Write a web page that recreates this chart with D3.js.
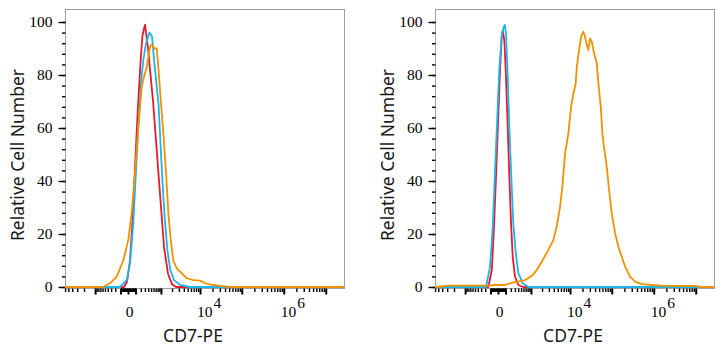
<!DOCTYPE html>
<html><head><meta charset="utf-8">
<script src="https://cdn.jsdelivr.net/npm/d3@7"></script>
<style>body{margin:0;background:#fff}</style>
</head><body>
<svg id="c" width="725" height="350"></svg>
<script>
// ---------- data (fluorescence intensity vs relative cell number %) ----------
const leftRedX = [-6030, -48, -11, 23, 55, 92, 135, 194, 239, 303, 393, 580, 770, 1006, 1221, 1568, 2002, 2541, 2.72e7];
const leftRedY = [0, 0, 2, 10, 25, 45, 65, 85, 95, 99, 90, 70, 50, 30, 15, 5, 1, 0, 0];

const leftCyanX = [-6030, -108, -14, 23, 66, 103, 150, 205, 258, 332, 437, 537, 623, 852, 973, 1108, 1276, 1502, 1806, 2256, 3211, 5700, 2.72e7];
const leftCyanY = [0, 0, 2.6, 9, 24, 41.6, 60.5, 77, 85.7, 92, 96, 94.5, 85.7, 69, 54, 39, 26, 14, 6.4, 2.6, 0.8, 0, 0];

const leftOrangeX = [-6030, -577, -332, -169, -58, 3, 44, 92, 150, 220, 277, 352, 437, 486, 566, 623, 752, 841, 986, 1167, 1385, 1598, 1850, 2163, 2649, 3546, 4724, 6875, 10000, 13220, 20960, 30340, 52660, 2.72e7];
const leftOrangeY = [0, 0, 1.4, 3.9, 10, 17.7, 28, 43, 60.5, 75.6, 79.4, 83, 89.4, 91.3, 91.3, 90, 90, 83, 70.6, 58, 43, 28, 17.7, 10, 7, 5.2, 3.3, 2.6, 2.4, 1.4, 0.75, 0.4, 0, 0];

const rightRedX = [-6030, -138, -80, -48, -23, 0, 23, 44, 58, 82, 108, 138, 169, 205, 244, 303, 403, 593, 2.72e7];
const rightRedY = [0, 0, 6.4, 22.8, 41.6, 61.8, 82, 94.5, 96.7, 93, 79.4, 60.5, 41.6, 24, 11.4, 3.9, 0.75, 0, 0];

const rightCyanX = [-6030, -183, -108, -66, -35, -8, 14, 44, 66, 88, 108, 138, 169, 211, 258, 324, 403, 566, 841, 2.72e7];
const rightCyanY = [0, 0, 7.7, 22.8, 44, 64, 82, 94.5, 97.6, 98.9, 95.7, 79.4, 60.5, 41.6, 24, 12.7, 5.2, 1.4, 0, 0];

const rightOrangeX = [-6030, -5480, -2857, -144, -35, 92, 220, 403, 670, 1053, 1447, 1966, 2908, 3888, 4724, 5700, 6493, 7570, 9100, 10580, 12040, 13750, 14540, 16520, 18440, 20960, 23030, 25300, 27640, 30340, 33330, 37850, 43900, 47950, 54700, 59700, 66700, 76060, 86340, 100200, 120100, 143900, 173500, 207800, 273600, 359900, 519300, 899500, 1864000, 9660000, 13940000, 2.72e7];
const rightOrangeY = [0, 0, 0.5, 0.5, 0.75, 0.75, 1.6, 2, 2.6, 4.2, 6.4, 9.5, 14, 17.7, 22.8, 30.3, 37.8, 50.4, 58, 68, 73, 76.9, 83, 89.4, 94.5, 96.3, 94.5, 91.3, 89.4, 93.8, 92.6, 88.2, 84.4, 76.9, 68, 58, 51.7, 45.4, 36.6, 27.8, 20.3, 15.2, 11.4, 7.7, 3.9, 2, 1.1, 0.75, 0.4, 0.4, 0, 0];

const xDomain = [-6030, 2.72e7];
const yDomain = [0, 100];
const yMajorTicks = [0, 20, 40, 60, 80, 100];
const yMinorTicks = d3.range(0, 101, 4);
const xLabelValues = [0, 1e4, 1e6];
const xLabelBase = ["0", "10", "10"];
const xLabelExp = ["", "4", "6"];
const yTitle = "Relative Cell Number";
const xTitle = "CD7-PE";
const seriesColors = {red: "#e8192c", cyan: "#1cb6ea", orange: "#f29100"};

// tick sets for biexponential axis
const xMajorTicks = [-1000, -100, 0, 100, 1000, 1e4, 1e5, 1e6, 1e7];
const xMinorTicks = [];
for (let k = 1; k <= 6; k++) {
  for (let m = 1; m <= 9; m++) {
    const v = m * Math.pow(10, k);
    if (m === 1 && k >= 2) continue;
    xMinorTicks.push(v);
    if (k <= 3 && -v >= xDomain[0]) xMinorTicks.push(-v);
  }
}

const zip = (xs, ys) => xs.map((v, i) => [v, ys[i]]);
const panels = [
  {left: 65, right: 344, titleX: 193, yTitleX: 24,
   series: [["red", zip(leftRedX, leftRedY)], ["cyan", zip(leftCyanX, leftCyanY)], ["orange", zip(leftOrangeX, leftOrangeY)]]},
  {left: 435, right: 714, titleX: 573, yTitleX: 394,
   series: [["red", zip(rightRedX, rightRedY)], ["cyan", zip(rightCyanX, rightCyanY)], ["orange", zip(rightOrangeX, rightOrangeY)]]}
];

const svg = d3.select("#c");
const TOP = 9, BOTTOM = 288;

panels.forEach(p => {
  const x = d3.scaleSymlog().constant(197).domain(xDomain).range([p.left, p.right]);
  const y = d3.scaleLinear().domain(yDomain).range([287, 22]);
  const g = svg.append("g");

  // frame
  g.append("rect")
    .attr("x", p.left + 0.5).attr("y", TOP + 0.5)
    .attr("width", p.right - p.left).attr("height", BOTTOM - TOP)
    .attr("fill", "none").attr("stroke", "#a0a0a0").attr("stroke-width", 1);

  // y axis
  const yMinor = g.append("g").attr("transform", `translate(${p.left + 0.5},0)`)
    .call(d3.axisLeft(y).tickValues(yMinorTicks).tickSize(3.5).tickFormat(""));
  const yMajor = g.append("g").attr("transform", `translate(${p.left + 0.5},0)`)
    .call(d3.axisLeft(y).tickValues(yMajorTicks).tickSize(7).tickPadding(6));
  [yMinor, yMajor].forEach(a => {
    a.select(".domain").remove();
    a.selectAll("line").attr("stroke", "#000").attr("stroke-width", 1.4);
  });
  yMajor.selectAll("text")
    .attr("font-family", "'Liberation Serif', 'DejaVu Serif', serif")
    .attr("font-size", 15.5).attr("fill", "#000");

  // x axis
  const xMinor = g.append("g").attr("transform", `translate(0,${BOTTOM + 0.5})`)
    .call(d3.axisBottom(x).tickValues(xMinorTicks).tickSize(3.5).tickFormat(""));
  const xMajor = g.append("g").attr("transform", `translate(0,${BOTTOM + 0.5})`)
    .call(d3.axisBottom(x).tickValues(xMajorTicks).tickSize(6).tickFormat(""));
  [xMinor, xMajor].forEach(a => {
    a.select(".domain").remove();
    a.selectAll("line").attr("stroke", "#000").attr("stroke-width", 1.4);
  });
  xMajor.selectAll("line").attr("stroke-width", 2);

  // x tick labels
  xLabelValues.forEach((v, i) => {
    const t = g.append("text")
      .attr("y", 317)
      .attr("font-family", "'Liberation Serif', 'DejaVu Serif', serif")
      .attr("font-size", 15.5).attr("fill", "#000");
    if (xLabelExp[i] === "") {
      t.attr("x", x(v) + 1.5).attr("text-anchor", "middle").text(xLabelBase[i]);
    } else {
      t.attr("x", x(v) - 3).attr("text-anchor", "start");
      t.append("tspan").text(xLabelBase[i]);
      t.append("tspan").attr("dx", 1).attr("dy", -9).text(xLabelExp[i]);
    }
  });

  // curves
  const line = d3.line().x(d => x(d[0])).y(d => y(d[1]));
  p.series.forEach(([name, pts]) => {
    g.append("path").datum(pts)
      .attr("d", line)
      .attr("fill", "none")
      .attr("stroke", seriesColors[name])
      .attr("stroke-width", 1.8)
      .attr("stroke-linejoin", "round");
  });

  // titles
  g.append("text")
    .attr("transform", `translate(${p.yTitleX},155) rotate(-90)`)
    .attr("text-anchor", "middle")
    .attr("font-family", "'Noto Sans', 'Open Sans', sans-serif")
    .attr("font-size", 17.5).attr("fill", "#1a1a1a")
    .text(yTitle);
  g.append("text")
    .attr("x", p.titleX).attr("y", 342)
    .attr("text-anchor", "middle")
    .attr("font-family", "'Noto Sans', 'Open Sans', sans-serif")
    .attr("font-size", 17.5).attr("fill", "#1a1a1a")
    .text(xTitle);
});
</script>
</body></html>
